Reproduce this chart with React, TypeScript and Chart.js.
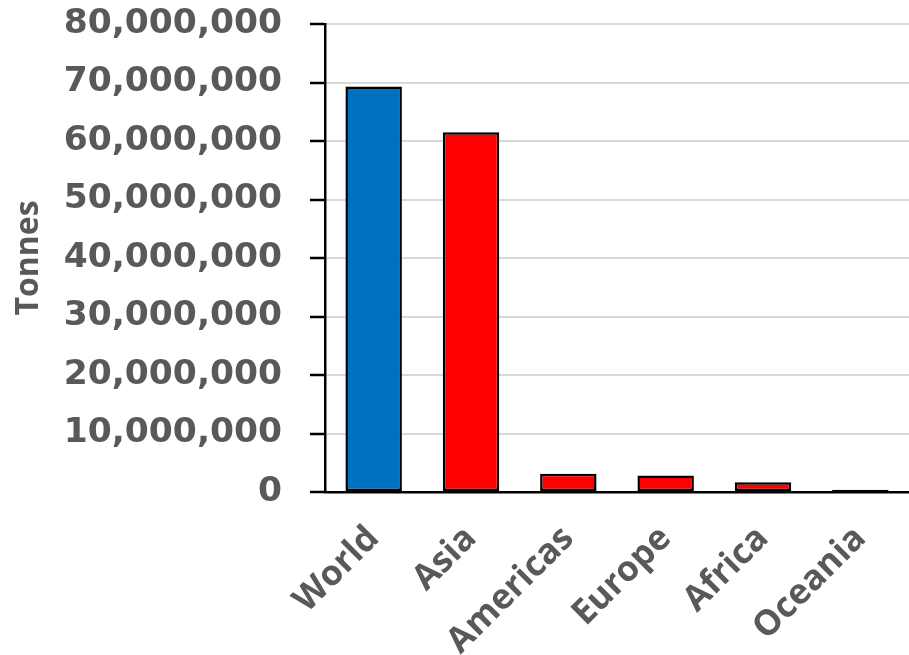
import React, { useEffect, useRef } from "react";
import { Chart, registerables } from "chart.js";

Chart.register(...registerables);

const categories = ["World", "Asia", "Americas", "Europe", "Africa", "Oceania"];
const tonnes = [69300000, 61500000, 3100000, 2800000, 1650000, 380000];
const barColors = ["#0070C0", "#FF0000", "#FF0000", "#FF0000", "#FF0000", "#FF0000"];
const yMax = 80000000;
const yStep = 10000000;
const yTitle = "Tonnes";

export default function App() {
  const ref = useRef<HTMLCanvasElement | null>(null);
  useEffect(() => {
    if (!ref.current) return;
    const chart = new Chart(ref.current, {
      type: "bar",
      data: {
        labels: categories,
        datasets: [
          {
            data: tonnes,
            backgroundColor: barColors,
            borderColor: "#000000",
            borderWidth: 2.5,
            borderSkipped: false,
            barPercentage: 0.58,
            categoryPercentage: 1,
          },
        ],
      },
      options: {
        animation: false,
        responsive: false,
        maintainAspectRatio: false,
        layout: { padding: { top: 24, right: 0, left: 0, bottom: 0 } },
        plugins: { legend: { display: false }, tooltip: { enabled: false } },
        scales: {
          x: {
            grid: { display: false, drawTicks: false },
            border: { display: true, color: "#000000", width: 2.5 },
            ticks: {
              color: "#595959",
              font: { family: "'Open Sans'", weight: "bold", size: 35 },
              maxRotation: 45,
              minRotation: 45,
              padding: 26,
            },
            afterFit: (s: any) => {
              s.height = 163;
              s.paddingLeft = 0;
              s.paddingRight = 0;
            },
          },
          y: {
            min: 0,
            max: yMax,
            grid: {
              color: "#D9D9D9",
              lineWidth: 2,
              tickColor: "#000000",
              tickLength: 15,
              tickWidth: 2.5,
            },
            border: { display: true, color: "#000000", width: 2.5 },
            ticks: {
              stepSize: yStep,
              color: "#595959",
              padding: 28,
              font: { family: "'DejaVu Sans'", weight: "bold", size: 34.5 },
              callback: (v: any) => Number(v).toLocaleString("en-US"),
            },
            title: {
              display: true,
              text: yTitle,
              color: "#595959",
              font: { family: "'Open Sans'", weight: "bold", size: 32 },
              padding: { top: 10, bottom: 0 },
            },
            afterFit: (s: any) => {
              s.width = 325;
              s.paddingTop = 0;
              s.paddingBottom = 0;
            },
          },
        },
      },
    });
    return () => chart.destroy();
  }, []);
  return (
    <div style={{ position: "fixed", left: 0, top: 0, width: 909, height: 655, background: "#fff" }}>
      <canvas ref={ref} width={909} height={655} style={{ width: 909, height: 655 }} />
    </div>
  );
}
